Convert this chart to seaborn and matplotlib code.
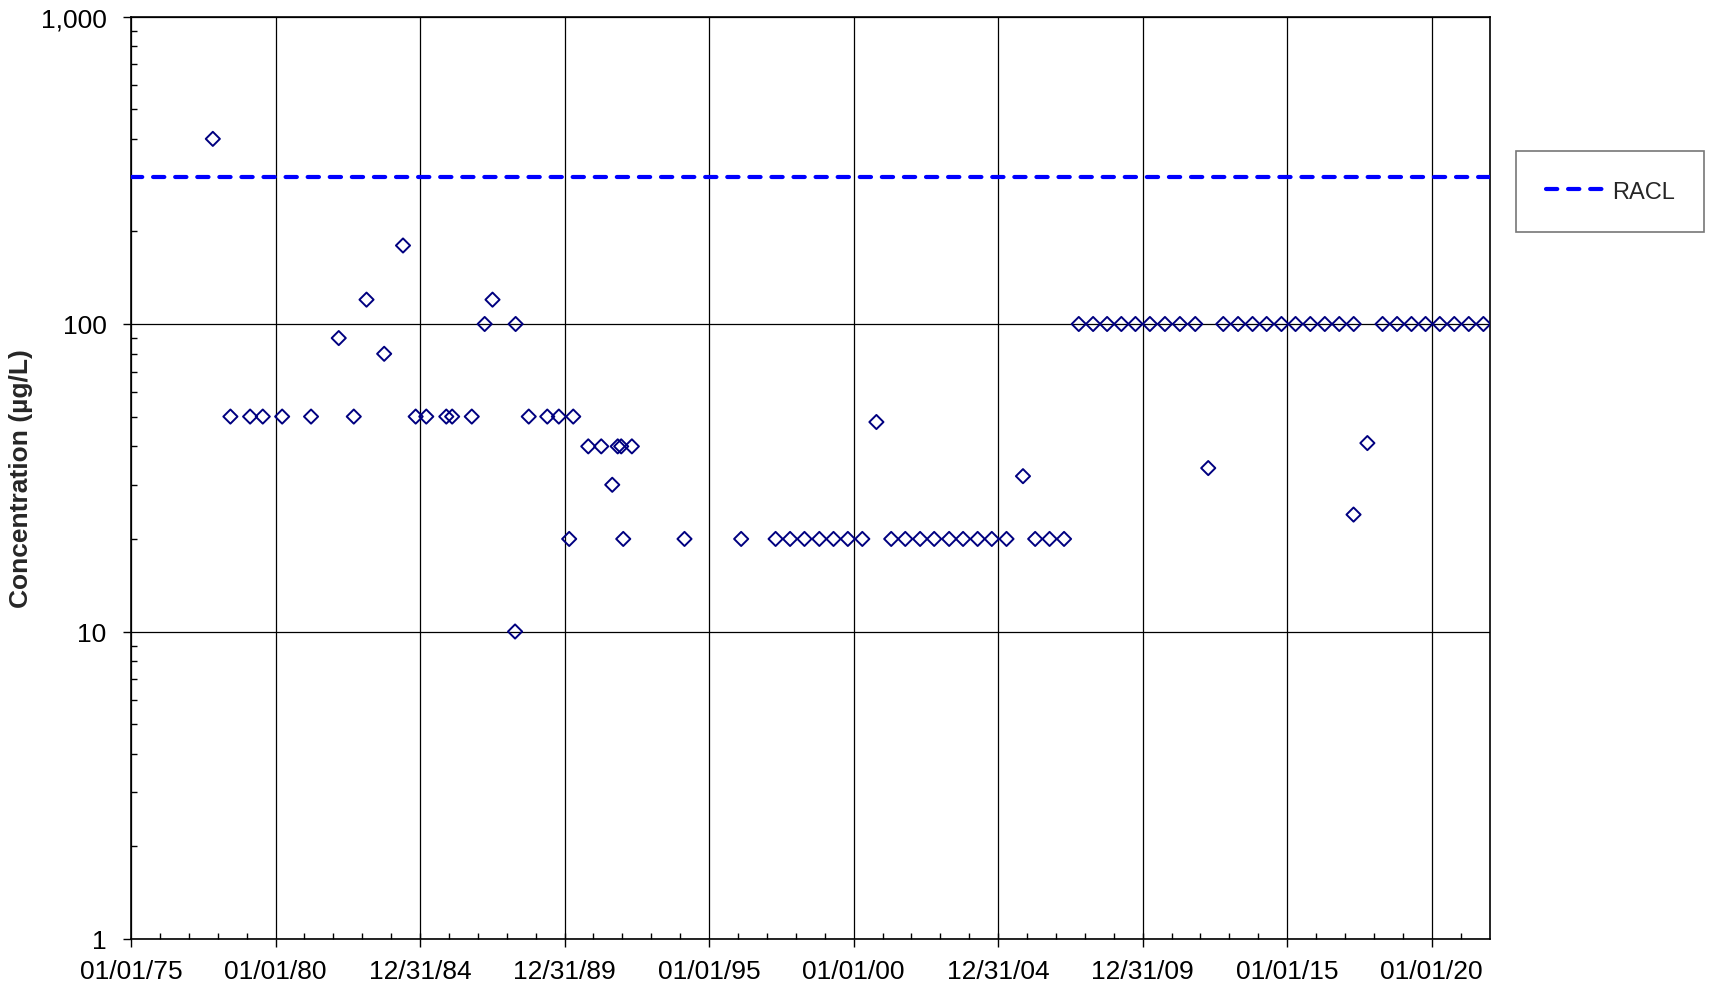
import pandas as pd
import numpy as np
import matplotlib
matplotlib.use("Agg")
import matplotlib.pyplot as plt
import matplotlib.dates as mdates
import matplotlib.ticker as mticker
import seaborn as sns

# ── DATA ──────────────────────────────────────────────────────
sample_dates = [
    "1977-10-31", "1978-06-10", "1979-02-14", "1979-07-24", "1980-03-25",
    "1981-03-25", "1982-03-10", "1982-09-16", "1983-02-24", "1983-10-05",
    "1984-05-30", "1984-11-06", "1985-03-20", "1985-11-28", "1986-02-10",
    "1986-10-16", "1987-03-28", "1987-07-05", "1988-04-15", "1988-04-22",
    "1988-10-05", "1989-05-27", "1989-10-20", "1990-02-28", "1990-04-20",
    "1990-10-27", "1991-04-09", "1991-08-26", "1991-11-03", "1991-12-17",
    "1992-01-12", "1992-04-30", "1994-02-24", "1996-02-10", "1997-04-20",
    "1997-10-20", "1998-04-20", "1998-10-25", "1999-04-22", "1999-10-20",
    "2000-04-20", "2000-10-15", "2001-04-20", "2001-10-15", "2002-04-20",
    "2002-10-15", "2003-04-22", "2003-10-15", "2004-04-16", "2004-10-12",
    "2005-04-16", "2005-11-10", "2006-04-13", "2006-10-12", "2007-04-13",
    "2007-10-16", "2008-04-14", "2008-10-08", "2009-04-06", "2009-10-01",
    "2010-04-02", "2010-10-09", "2011-04-16", "2011-10-27", "2012-04-08",
    "2012-10-15", "2013-04-20", "2013-10-20", "2014-04-16", "2014-10-20",
    "2015-04-16", "2015-10-20", "2016-04-20", "2016-10-20", "2017-04-18",
    "2017-04-20", "2017-10-10", "2018-04-20", "2018-10-20", "2019-04-20",
    "2019-10-15", "2020-04-12", "2020-10-12", "2021-04-13", "2021-10-15",
]
conc_ugL = [
    400, 50, 50, 50, 50,
    50, 90, 50, 120, 80,
    180, 50, 50, 50, 50,
    50, 100, 120, 10, 100,
    50, 50, 50, 20, 50,
    40, 40, 30, 40, 40,
    20, 40, 20, 20, 20,
    20, 20, 20, 20, 20,
    20, 48, 20, 20, 20,
    20, 20, 20, 20, 20,
    20, 32, 20, 20, 20,
    100, 100, 100, 100, 100,
    100, 100, 100, 100, 34,
    100, 100, 100, 100, 100,
    100, 100, 100, 100, 24,
    100, 41, 100, 100, 100,
    100, 100, 100, 100, 100,
]
racl = 300
racl_label = "RACL"

x_ticks = ["1975-01-01", "1980-01-01", "1984-12-31", "1989-12-31", "1995-01-01",
           "2000-01-01", "2004-12-31", "2009-12-31", "2015-01-01", "2020-01-01"]
x_start, x_end = "1975-01-01", "2021-12-31"
y_ticks = [1, 10, 100, 1000]
y_label = "Concentration (µg/L)"

df = pd.DataFrame({"date": pd.to_datetime(sample_dates), "conc": conc_ugL})

# ── STYLE ─────────────────────────────────────────────────────
sns.set_theme(style="white")
plt.rcParams["font.family"] = ["Liberation Sans", "DejaVu Sans"]

W, H = 1711, 987
fig = plt.figure(figsize=(W / 100, H / 100), dpi=100)
ax = fig.add_axes([131 / W, 1 - 940 / H, 1358.5 / W, 922.5 / H])

# ── PLOT ──────────────────────────────────────────────────────
ax.axhline(racl, color="#0000FF", lw=3.0, ls=(0, (2.7, 2.6)),
           dash_capstyle="round", label=racl_label, zorder=3)
sns.scatterplot(data=df, x="date", y="conc", ax=ax, marker="D", s=52,
                facecolors="none", edgecolor="#000080", linewidth=1.4,
                legend=False, zorder=4)

ax.set_yscale("log")
ax.set_ylim(1, 1000)
ax.set_xlim(pd.Timestamp(x_start), pd.Timestamp(x_end))

ax.set_yticks(y_ticks)
ax.yaxis.set_major_formatter(mticker.FuncFormatter(lambda v, p: f"{v:,.0f}"))
ax.yaxis.set_minor_locator(mticker.LogLocator(base=10, subs=np.arange(2, 10)))
ax.yaxis.set_minor_formatter(mticker.NullFormatter())

ax.set_xticks(pd.to_datetime(x_ticks))
ax.xaxis.set_major_formatter(mdates.DateFormatter("%m/%d/%y"))
ax.xaxis.set_minor_locator(mdates.YearLocator())

ax.tick_params(axis="both", which="major", direction="out", length=5.5, width=1,
               color="black", labelsize=19, labelcolor="black")
ax.tick_params(axis="y", which="major", pad=12)
ax.tick_params(axis="x", which="major", pad=9)
ax.tick_params(axis="both", which="minor", direction="in", length=4, width=1,
               color="black")
ax.tick_params(left=True, bottom=True, which="both")

ax.grid(True, which="major", color="black", lw=0.9)
ax.set_axisbelow(True)
for sp in ax.spines.values():
    sp.set_color("black")
    sp.set_linewidth(1.2)

ax.set_xlabel("")
ax.set_ylabel(y_label, fontsize=19, fontweight="bold", labelpad=5.5)

leg = ax.legend(loc="upper left", bbox_to_anchor=(1516 / W, 1 - 152 / H),
                bbox_transform=fig.transFigure, fontsize=17, frameon=True,
                fancybox=False, borderaxespad=0, borderpad=1.25,
                handlelength=2.6, handletextpad=0.2)
leg.get_frame().set_edgecolor("#555555")
leg.get_frame().set_linewidth(1.2)

plt.savefig("out.png", dpi=100)
plt.close()
